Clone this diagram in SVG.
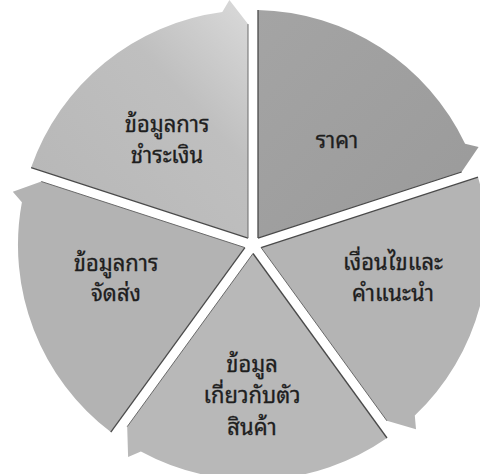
<svg xmlns="http://www.w3.org/2000/svg" width="480" height="474" viewBox="0 0 480 474">
<style>
.t{font-family:"Noto Sans Thai Looped","Garuda","Loma","Tahoma","Noto Sans Thai","DejaVu Sans",sans-serif;font-size:22px;fill:#1e1e1e;stroke:#1e1e1e;stroke-width:0.3;text-anchor:middle}
.e1{stroke:#4a4a4a;stroke-width:1.3;fill:none}
.e2{stroke:#6a6a6a;stroke-width:1;fill:none}
</style>
<defs>
<linearGradient id="g5" x1="0" y1="1" x2="1" y2="0"><stop offset="0" stop-color="#b6b6b6"/><stop offset="0.65" stop-color="#bfbfbf"/><stop offset="1" stop-color="#dadada"/></linearGradient>
<linearGradient id="g1" x1="0" y1="0" x2="1" y2="1"><stop offset="0" stop-color="#a4a4a4"/><stop offset="1" stop-color="#9a9a9a"/></linearGradient>
</defs>
<rect width="480" height="474" fill="#ffffff"/>
<g id="node-price">
<path d="M258.0,238.1 L258.0,10.05 A235 235 0 0 1 465.1,143.8 L478.6,146.9 L461.6,172.0 Z" fill="url(#g1)"/>
<line class="e1" x1="258.0" y1="238.1" x2="258.0" y2="10.05"/>
<line class="e1" x1="258.0" y1="238.1" x2="461.6" y2="172.0"/>
<text class="t" x="337" y="148">ราคา</text>
</g>
<g id="node-terms">
<path d="M261.1,247.6 L478.0,177.2 A235 235 0 0 1 414.8,415.5 L416.0,429.2 L386.9,420.8 Z" fill="#b4b4b4"/>
<line class="e1" x1="261.1" y1="247.6" x2="478.0" y2="177.2"/>
<line class="e2" x1="261.1" y1="247.6" x2="386.9" y2="420.8"/>
<text class="t" x="393" y="270">เงื่อนไขและ</text>
<text class="t" x="393" y="301">คำแนะนำ</text>
</g>
<g id="node-product">
<path d="M253,253.5 L387.0,438.0 A235 235 0 0 1 140.9,451.5 L128.1,457.0 L127.2,426.7 Z" fill="#b8b8b8"/>
<line class="e1" x1="253" y1="253.5" x2="387.0" y2="438.0"/>
<line class="e2" x1="253" y1="253.5" x2="127.2" y2="426.7"/>
<text class="t" x="252" y="372">ข้อมูล</text>
<text class="t" x="252" y="403">เกี่ยวกับตัว</text>
<text class="t" x="252" y="435">สินค้า</text>
</g>
<g id="node-shipping">
<path d="M244.9,247.6 L110.8,432.1 A235 235 0 0 1 21.9,202.2 L12.8,191.8 L41.3,181.5 Z" fill="#b3b3b3"/>
<line class="e1" x1="244.9" y1="247.6" x2="110.8" y2="432.1"/>
<line class="e2" x1="244.9" y1="247.6" x2="41.3" y2="181.5"/>
<text class="t" x="116" y="271">ข้อมูลการ</text>
<text class="t" x="116" y="301">จัดส่ง</text>
</g>
<g id="node-payment">
<path d="M248.0,238.1 L31.1,167.6 A235 235 0 0 1 222.3,12.0 L229.4,0.1 L248.0,24.1 Z" fill="url(#g5)"/>
<line class="e1" x1="248.0" y1="238.1" x2="31.1" y2="167.6"/>
<line class="e2" x1="248.0" y1="238.1" x2="248.0" y2="24.1"/>
<text class="t" x="167" y="132">ข้อมูลการ</text>
<text class="t" x="167" y="163">ชำระเงิน</text>
</g>
<g id="connectors"/>
</svg>
